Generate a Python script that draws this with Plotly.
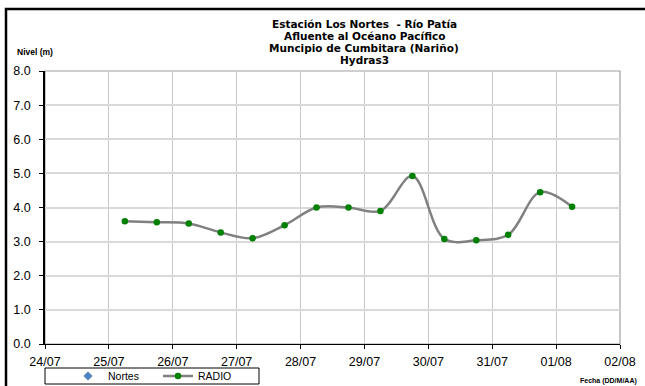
import plotly.graph_objects as go

# Water level readings (RADIO) for Estación Los Nortes, twice daily
fechas = [
    "2010-07-25 06:00", "2010-07-25 18:00",
    "2010-07-26 06:00", "2010-07-26 18:00",
    "2010-07-27 06:00", "2010-07-27 18:00",
    "2010-07-28 06:00", "2010-07-28 18:00",
    "2010-07-29 06:00", "2010-07-29 18:00",
    "2010-07-30 06:00", "2010-07-30 18:00",
    "2010-07-31 06:00", "2010-07-31 18:00",
    "2010-08-01 06:00",
]
nivel_radio = [3.60, 3.57, 3.53, 3.27, 3.10, 3.48, 4.00, 4.00, 3.90, 4.92,
               3.08, 3.04, 3.20, 4.45, 4.02]

# Nortes series has no readings in this period
fechas_nortes = [None]
nivel_nortes = [None]

titulo = ["Estación Los Nortes  - Río Patía",
          "Afluente al Océano Pacífico",
          "Muncipio de Cumbitara (Nariño)",
          "Hydras3"]

W, H = 645, 386
L, R, T, B = 45, 25, 71, 42
PW, PH = W - L - R, H - T - B


def px(x):
    return (x - L) / PW


def py(y):
    return (H - B - y) / PH


SANS = "Liberation Sans, Arial, sans-serif"
WIDE = "DejaVu Sans, Verdana, sans-serif"

fig = go.Figure()
fig.add_trace(go.Scatter(
    x=fechas_nortes, y=nivel_nortes, name="Nortes", mode="markers",
    marker=dict(symbol="diamond", color="#4F81BD", size=7),
))
fig.add_trace(go.Scatter(
    x=fechas, y=nivel_radio, name="RADIO", mode="lines+markers",
    line=dict(color="#808080", width=2.5, shape="spline", smoothing=1.0),
    marker=dict(color="#008000", size=6.5),
))

annotations = []
for i, linea in enumerate(titulo):
    annotations.append(dict(
        text=f"<b>{linea}</b>", x=px(364), y=py(24.5 + 11.7 * i),
        xref="paper", yref="paper", xanchor="center", yanchor="middle",
        showarrow=False, font=dict(family=WIDE, size=10.5, color="black"),
    ))
annotations.append(dict(
    text="<b>Nivel (m)</b>", x=px(15), y=py(52), xref="paper", yref="paper",
    xanchor="left", yanchor="middle", showarrow=False,
    font=dict(family=SANS, size=8.5, color="black"),
))
annotations.append(dict(
    text="<b>Fecha (DD/M/AA)</b>", x=px(639), y=py(381), xref="paper", yref="paper",
    xanchor="right", yanchor="middle", showarrow=False,
    font=dict(family=SANS, size=7, color="black"),
))

shapes = [
    # outer chart frame
    dict(type="rect", xref="paper", yref="paper",
         x0=px(6), x1=px(660), y0=py(400), y1=py(9),
         line=dict(color="black", width=2.5), layer="below"),
    # plot area border (top/right)
    dict(type="rect", xref="paper", yref="paper", x0=0, x1=1, y0=0, y1=1,
         line=dict(color="#A0A0A0", width=1.2), layer="below"),
    # legend box
    dict(type="rect", xref="paper", yref="paper",
         x0=px(45), x1=px(259), y0=py(384), y1=py(368),
         line=dict(color="black", width=1), fillcolor="white", layer="below"),
]

fig.update_layout(
    width=W, height=H,
    margin=dict(l=L, r=R, t=T, b=B, autoexpand=False),
    paper_bgcolor="white", plot_bgcolor="white",
    font=dict(family=SANS, size=12, color="black"),
    annotations=annotations, shapes=shapes,
    showlegend=True,
    legend=dict(
        orientation="h", x=px(68), y=py(376), xanchor="left", yanchor="middle",
        borderwidth=0, bgcolor="rgba(0,0,0,0)",
        font=dict(family=SANS, size=10.5, color="black"),
        itemwidth=30, entrywidth=45, tracegroupgap=0,
    ),
)
fig.update_xaxes(
    type="date", range=["2010-07-24", "2010-08-02"],
    dtick=86400000, tick0="2010-07-24", tickformat="%d/%m",
    showgrid=True, gridcolor="#C8C8C8", gridwidth=1,
    showline=True, linecolor="black", linewidth=1.2,
    ticks="outside", ticklen=4, tickcolor="black",
    tickfont=dict(family=SANS, size=12.5), zeroline=False,
    ticklabelstandoff=2,
)
fig.update_yaxes(
    range=[0, 8], dtick=1, tickformat=".1f",
    showgrid=True, gridcolor="#D9D9D9", gridwidth=1.6,
    showline=True, linecolor="black", linewidth=1.6,
    ticks="outside", ticklen=4, tickcolor="black",
    tickfont=dict(family=SANS, size=12.5), zeroline=False,
    ticklabelstandoff=6,
)

fig.write_html("out.html")
